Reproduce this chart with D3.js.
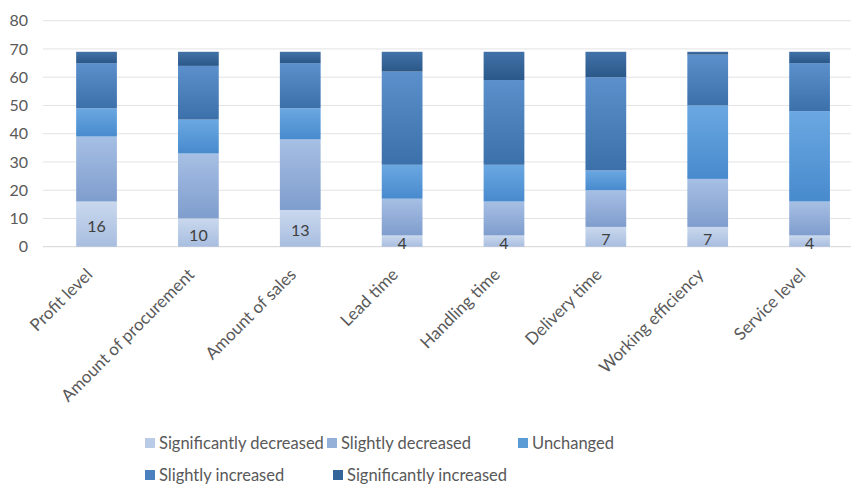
<!DOCTYPE html>
<html>
<head>
<meta charset="utf-8">
<script src="https://cdn.jsdelivr.net/npm/d3@7"></script>
<style>
  html, body { margin: 0; padding: 0; background: #ffffff; }
  svg { display: block; }
  text { font-family: Lato, "Open Sans", sans-serif; }
</style>
</head>
<body>
<svg id="chart" width="851" height="485"></svg>
<script>
// Survey categories along the x axis
const categories = [
  "Profit level", "Amount of procurement", "Amount of sales", "Lead time",
  "Handling time", "Delivery time", "Working efficiency", "Service level"
];

// Response counts per category, one array per answer
const significantlyDecreased = [16, 10, 13, 4, 4, 7, 7, 4];
const slightlyDecreased      = [23, 23, 25, 13, 12, 13, 17, 12];
const unchanged              = [10, 12, 11, 12, 13, 7, 26, 32];
const slightlyIncreased      = [16, 19, 16, 33, 30, 33, 18, 17];
const significantlyIncreased = [4, 5, 4, 7, 10, 9, 1, 4];

const seriesNames = [
  "Significantly decreased", "Slightly decreased", "Unchanged",
  "Slightly increased", "Significantly increased"
];
const seriesValues = [
  significantlyDecreased, slightlyDecreased, unchanged,
  slightlyIncreased, significantlyIncreased
];

const yTicks = [0, 10, 20, 30, 40, 50, 60, 70, 80];

// Gradient stops (top, bottom) and legend swatch colour per series
const gradTop    = ["#c9d8ee", "#a6bfe4", "#6ba8e2", "#5b90cc", "#4272a8"];
const gradBottom = ["#a8bddf", "#7f9dcd", "#478acd", "#3c70aa", "#2b5889"];
const swatch     = ["#b9cbe6", "#94b0d9", "#5b9bd5", "#4a80bd", "#34659a"];

const svg = d3.select("#chart");

// Build a table of rows for the stack layout
const rows = categories.map((c, i) => {
  const r = { category: c };
  seriesNames.forEach((s, k) => { r[s] = seriesValues[k][i]; });
  return r;
});
const stacked = d3.stack().keys(seriesNames)(rows);

const x = d3.scaleBand()
  .domain(categories)
  .range([45.6, 860.5])
  .paddingInner(0.6)
  .paddingOuter(0.3);

const y = d3.scaleLinear().domain([0, 80]).range([246.7, 20.7]);

// Vertical gradients, lighter at the top of each segment
const defs = svg.append("defs");
seriesNames.forEach((s, k) => {
  const g = defs.append("linearGradient")
    .attr("id", "grad" + k)
    .attr("x1", 0).attr("y1", 0).attr("x2", 0).attr("y2", 1);
  g.append("stop").attr("offset", "0%").attr("stop-color", gradTop[k]);
  g.append("stop").attr("offset", "100%").attr("stop-color", gradBottom[k]);
});

// Horizontal gridlines
svg.append("g")
  .selectAll("line")
  .data(yTicks)
  .join("line")
  .attr("x1", 43).attr("x2", 851)
  .attr("y1", d => y(d)).attr("y2", d => y(d))
  .attr("stroke", d => d === 0 ? "#d4d4d4" : "#e3e3e3")
  .attr("stroke-width", 1);

// Y axis tick labels
const yAxis = d3.axisLeft(y).tickValues(yTicks).tickSize(0).tickPadding(0);
const yG = svg.append("g").attr("transform", "translate(28,0)").call(yAxis);
yG.select(".domain").remove();
yG.selectAll("text")
  .attr("fill", "#595959")
  .style("font-size", "16px")
  .style("font-family", "Lato, 'Open Sans', sans-serif");

// Stacked bars
svg.append("g")
  .selectAll("g")
  .data(stacked)
  .join("g")
  .attr("fill", (d, k) => `url(#grad${k})`)
  .selectAll("rect")
  .data(d => d)
  .join("rect")
  .attr("x", d => x(d.data.category))
  .attr("width", x.bandwidth())
  .attr("y", d => y(d[1]))
  .attr("height", d => y(d[0]) - y(d[1]));

// Value labels on the bottom segment
svg.append("g")
  .selectAll("text")
  .data(stacked[0])
  .join("text")
  .attr("x", d => x(d.data.category) + x.bandwidth() / 2)
  .attr("y", d => (y(d[0]) + y(d[1])) / 2 + 2)
  .attr("dy", "0.38em")
  .attr("text-anchor", "middle")
  .attr("fill", "#404040")
  .style("font-size", "16px")
  .text(d => d.data[seriesNames[0]]);

// Rotated category labels
svg.append("g")
  .selectAll("text")
  .data(categories)
  .join("text")
  .attr("transform", c => `translate(${x(c) + x.bandwidth() / 2 - 3},${y(0) + 29}) rotate(-45)`)
  .attr("text-anchor", "end")
  .attr("fill", "#595959")
  .style("font-size", "17px")
  .text(c => c);

// Legend, two rows
const legendItems = [
  { k: 0, x: 145, y: 443 },
  { k: 1, x: 327, y: 443 },
  { k: 2, x: 518, y: 443 },
  { k: 3, x: 145, y: 475 },
  { k: 4, x: 333, y: 475 }
];
const lg = svg.append("g")
  .selectAll("g")
  .data(legendItems)
  .join("g")
  .attr("transform", d => `translate(${d.x},${d.y})`);
lg.append("rect")
  .attr("x", 0).attr("y", -5)
  .attr("width", 10).attr("height", 10)
  .attr("fill", d => swatch[d.k]);
lg.append("text")
  .attr("x", 14).attr("dy", "0.35em")
  .attr("fill", "#595959")
  .style("font-size", "16.5px")
  .text(d => seriesNames[d.k]);
</script>
</body>
</html>
